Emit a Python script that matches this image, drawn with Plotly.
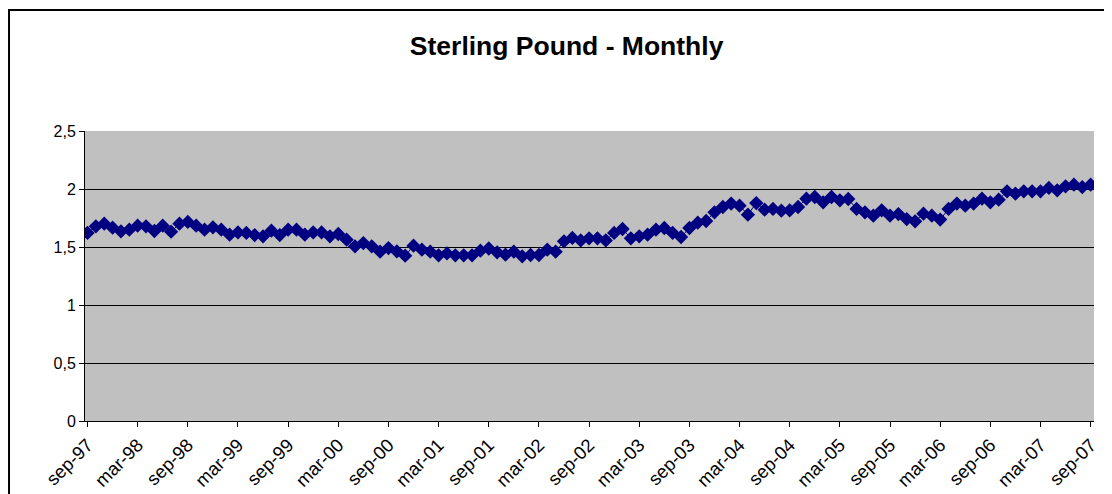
import plotly.graph_objects as go

month_names = ["jan", "feb", "mar", "apr", "may", "jun", "jul", "aug", "sep", "oct", "nov", "dec"]
start_year, start_month, n_months = 1997, 9, 121
categories = []
for i in range(n_months):
    m = (start_month - 1 + i) % 12
    y = start_year + (start_month - 1 + i) // 12
    categories.append(f"{month_names[m]}-{y % 100:02d}")

rate = [
    1.621, 1.678, 1.701, 1.667, 1.635, 1.649, 1.684, 1.678, 1.638, 1.684,
    1.632, 1.701, 1.716, 1.684, 1.649, 1.670, 1.649, 1.606, 1.626, 1.621,
    1.603, 1.592, 1.641, 1.603, 1.649, 1.649, 1.606, 1.626, 1.626, 1.592,
    1.612, 1.563, 1.506, 1.534, 1.506, 1.460, 1.491, 1.463, 1.425, 1.511,
    1.477, 1.460, 1.428, 1.445, 1.428, 1.428, 1.428, 1.468, 1.487, 1.454,
    1.434, 1.460, 1.420, 1.431, 1.431, 1.477, 1.460, 1.549, 1.578, 1.557,
    1.575, 1.575, 1.557, 1.621, 1.655, 1.575, 1.592, 1.606, 1.649, 1.664,
    1.621, 1.586, 1.664, 1.710, 1.724, 1.799, 1.845, 1.874, 1.856, 1.779,
    1.879, 1.822, 1.828, 1.813, 1.816, 1.845, 1.917, 1.931, 1.885, 1.931,
    1.902, 1.914, 1.828, 1.799, 1.770, 1.816, 1.770, 1.784, 1.741, 1.721,
    1.787, 1.770, 1.736, 1.828, 1.874, 1.856, 1.874, 1.917, 1.885, 1.908,
    1.980, 1.960, 1.980, 1.980, 1.980, 2.009, 1.989, 2.023, 2.037, 2.017,
    2.037,
]

x_tick_labels = categories[::6]
y_tick_vals = [0, 0.5, 1, 1.5, 2, 2.5]
y_tick_text = ["0", "0,5", "1", "1,5", "2", "2,5"]

FONT = "Liberation Sans, Arial, sans-serif"

fig = go.Figure()
fig.add_trace(go.Scatter(
    x=categories, y=rate, mode="lines+markers",
    line=dict(color="#000080", width=1),
    marker=dict(symbol="diamond", size=11, color="#000080"),
    showlegend=False,
))

# page body has an 8px default margin, so the figure is sized/placed to compensate
fig.update_layout(
    width=1104, height=486,
    margin=dict(l=77, r=18, t=123, b=73, autoexpand=False),
    paper_bgcolor="white",
    plot_bgcolor="#C0C0C0",
    font=dict(family=FONT, size=16, color="black"),
    title=dict(text="<b>Sterling Pound - Monthly</b>", x=0.506, xanchor="center",
               y=0.922, yanchor="middle",
               font=dict(size=26.5, family=FONT)),
    shapes=[dict(type="rect", xref="paper", yref="paper",
                 x0=-0.0753, x1=1.0158, y0=-0.3, y1=1.417,
                 line=dict(color="black", width=2), layer="below")],
)
fig.update_xaxes(
    type="category", range=[-0.3, 120.4], automargin=False,
    tickmode="array", tickvals=x_tick_labels, ticktext=x_tick_labels,
    tickangle=-45, ticks="outside", ticklen=5, tickcolor="black",
    showline=True, linecolor="black", linewidth=1, mirror=False,
    showgrid=False, zeroline=False,
    tickfont=dict(size=18.5),
)
fig.update_yaxes(
    range=[0, 2.5], automargin=False,
    tickmode="array", tickvals=y_tick_vals, ticktext=y_tick_text,
    ticks="outside", ticklen=5, tickcolor="black",
    showline=True, linecolor="black", linewidth=1,
    showgrid=True, gridcolor="black", gridwidth=1, zeroline=False,
    tickfont=dict(size=16),
)

fig.write_html("out.html")
